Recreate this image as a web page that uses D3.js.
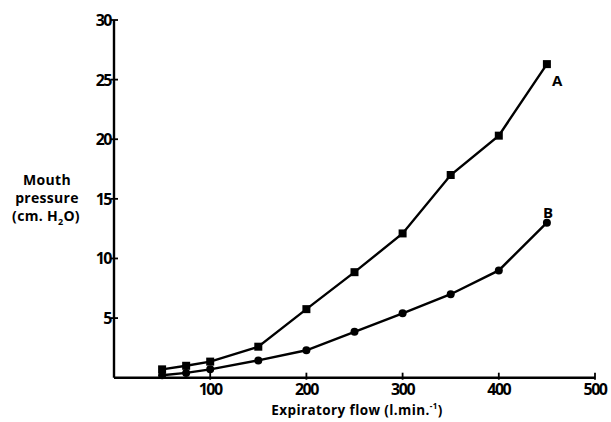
<!DOCTYPE html>
<html><head><meta charset="utf-8">
<script src="https://cdn.jsdelivr.net/npm/d3@7"></script>
<style>body{margin:0;background:#fff}text{font-family:"Open Sans",sans-serif;font-weight:700;fill:#000}</style>
</head><body>
<svg id="c" width="611" height="422"></svg>
<script>
const flow = [50, 75, 100, 150, 200, 250, 300, 350, 400, 450];
const seriesA = [0.7, 1.0, 1.35, 2.6, 5.75, 8.85, 12.1, 17.0, 20.3, 26.3];
const seriesB = [0.2, 0.4, 0.7, 1.45, 2.3, 3.85, 5.4, 7.0, 9.0, 13.0];
const xTicks = [100, 200, 300, 400, 500];
const yTicks = [5, 10, 15, 20, 25, 30];

const svg = d3.select("#c");
const x = d3.scaleLinear().domain([0, 500]).range([114, 595]);
const y = d3.scaleLinear().domain([0, 30]).range([377.7, 20]);

// axes
svg.append("line").attr("x1", x(0)).attr("x2", x(500)).attr("y1", y(0)).attr("y2", y(0)).attr("stroke", "#000").attr("stroke-width", 2.4);
svg.append("line").attr("x1", x(0)).attr("x2", x(0)).attr("y1", y(0)).attr("y2", y(30)).attr("stroke", "#000").attr("stroke-width", 2.4);

svg.selectAll(".yt").data(yTicks).join("line").attr("x1", x(0) - 3).attr("x2", x(0) + 4)
  .attr("y1", d => y(d)).attr("y2", d => y(d)).attr("stroke", "#000").attr("stroke-width", 1.8);
svg.selectAll(".yl").data(yTicks).join("text").attr("x", x(0) - 3).attr("y", d => y(d) + 6)
  .attr("text-anchor", "end").attr("font-size", 16).attr("letter-spacing", -1.5).text(d => d);

svg.selectAll(".xt").data(xTicks).join("line").attr("x1", d => x(d)).attr("x2", d => x(d))
  .attr("y1", y(0) - 5).attr("y2", y(0) + 2).attr("stroke", "#000").attr("stroke-width", 1.8);
svg.selectAll(".xl").data(xTicks).join("text").attr("x", d => x(d)).attr("y", y(0) + 17)
  .attr("text-anchor", "middle").attr("font-size", 16).attr("letter-spacing", -1.5).text(d => d);

// lines
const line = d3.line().x(d => x(d[0])).y(d => y(d[1]));
const dA = flow.map((f, i) => [f, seriesA[i]]);
const dB = flow.map((f, i) => [f, seriesB[i]]);
svg.append("path").attr("d", line(dA)).attr("fill", "none").attr("stroke", "#000").attr("stroke-width", 2.4);
svg.append("path").attr("d", line(dB)).attr("fill", "none").attr("stroke", "#000").attr("stroke-width", 2.4);
svg.selectAll(".sq").data(dA).join("rect").attr("x", d => x(d[0]) - 4).attr("y", d => y(d[1]) - 4)
  .attr("width", 8).attr("height", 8).attr("fill", "#000");
svg.selectAll(".ci").data(dB).join("circle").attr("cx", d => x(d[0])).attr("cy", d => y(d[1]))
  .attr("r", 4).attr("fill", "#000");

svg.append("text").attr("x", x(450) + 5).attr("y", y(26.3) + 22).attr("font-size", 15).text("A");
svg.append("text").attr("x", x(450) - 4).attr("y", y(13.0) - 5).attr("font-size", 15).text("B");

// y title
const yt = svg.append("text").attr("text-anchor", "middle").attr("font-size", 14).attr("letter-spacing", 0.3);
yt.append("tspan").attr("x", 47).attr("y", 185).text("Mouth");
yt.append("tspan").attr("x", 47).attr("y", 203).text("pressure");
yt.append("tspan").attr("x", 46).attr("y", 221).text("(cm. H");
yt.append("tspan").attr("font-size", 9).attr("dy", 4).text("2");
yt.append("tspan").attr("dy", -4).text("O)");

// x title
const xt = svg.append("text").attr("x", 357).attr("y", 415).attr("text-anchor", "middle").attr("font-size", 13.5).attr("letter-spacing", 0.4);
xt.append("tspan").text("Expiratory flow  (l.min.");
xt.append("tspan").attr("font-size", 8).attr("dy", -6).text("-1");
xt.append("tspan").attr("dy", 6).text(")");
</script>
</body></html>
